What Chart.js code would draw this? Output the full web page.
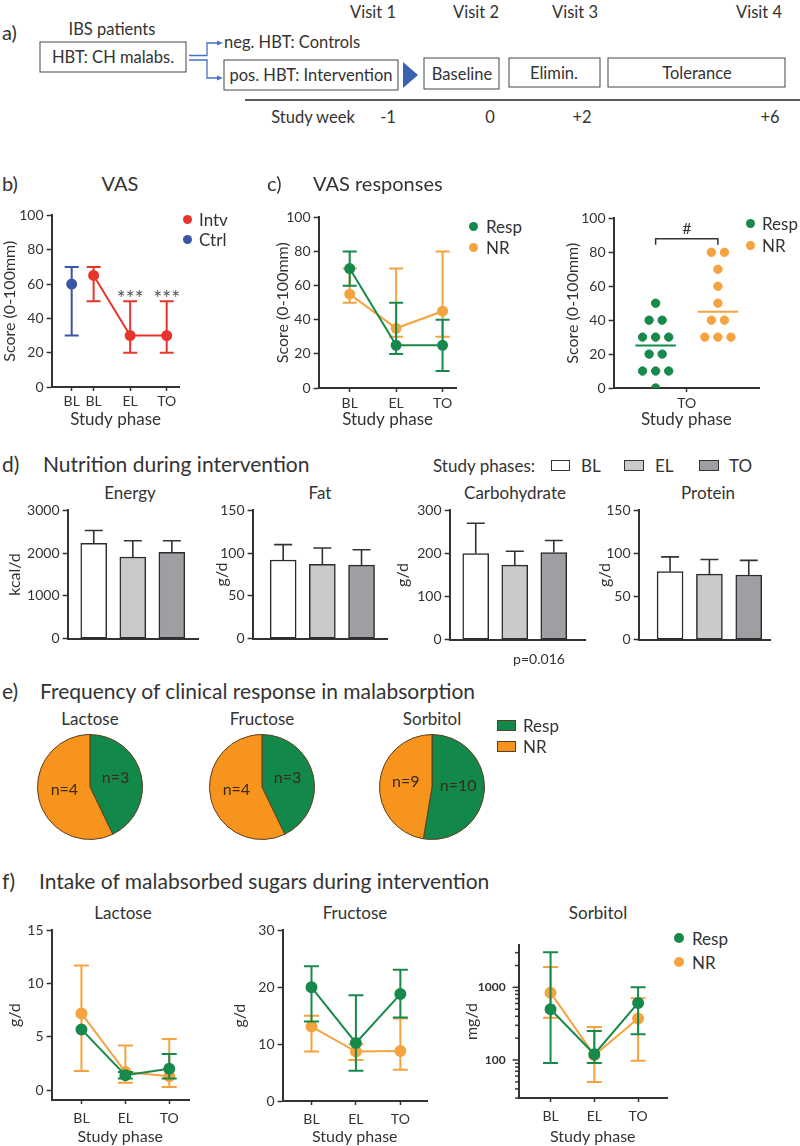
<!DOCTYPE html>
<html><head><meta charset="utf-8">
<script src="https://cdn.jsdelivr.net/npm/chart.js@4.4.1/dist/chart.umd.min.js"></script>
<style>
html,body{margin:0;padding:0;background:#fff;}
#root{position:relative;width:800px;height:1146px;overflow:hidden;font-family:Lato,'Open Sans',sans-serif;color:#333;}
.t{position:absolute;white-space:nowrap;line-height:1;}
canvas{position:absolute;}
</style></head><body><div id="root"></div>
<script>
// ================= DATA =================
// b) VAS
const vasLabels = ['BL','BL','EL','TO'];
const vasTicks = [0,20,40,60,80,100];
const ctrlVas = [60], ctrlVasLo = [30], ctrlVasHi = [70];
const intvVas = [65,30,30], intvVasLo = [50,20,20], intvVasHi = [70,50,50];
const intvStars = ['','***','***'];
// c) VAS responses
const respPhases = ['BL','EL','TO'];
const respVas = [70,25,25], respVasLo = [60,20,10], respVasHi = [80,50,40];
const nrVas = [55,35,45], nrVasLo = [50,30,30], nrVasHi = [70,70,80];
const respTO = [50,40,40,30,30,30,20,20,10,10,10,0];
const nrTO = [80,80,70,60,50,40,40,30,30,30];
// d) Nutrition
const phases = ['BL','EL','TO'];
const energy = [2230,1910,2020], energySD = [300,380,270];
const energyTicks = [0,1000,2000,3000];
const fat = [92,87,86], fatSD = [18,19,18];
const carb = [200,173,202], carbSD = [70,32,28];
const carbTicks = [0,100,200,300];
const protein = [79,76,75], proteinSD = [17,17,17];
const gramTicks = [0,50,100,150];
// e) Frequency of clinical response
const pieGroups = ['Resp','NR'];
const lactoseN = [3,4], fructoseN = [3,4], sorbitolN = [10,9];
// f) Intake of malabsorbed sugars
const lacTicks = [0,5,10,15];
const lacResp = [5.7,1.4,2.0], lacRespLo = [null,1.1,1.1], lacRespHi = [null,1.7,3.4];
const lacNR = [7.2,1.7,1.3], lacNRLo = [1.8,0.7,0.3], lacNRHi = [11.7,4.2,4.8];
const fruTicks = [0,10,20,30];
const fruResp = [20,10.2,18.8], fruRespLo = [14,5.3,14.7], fruRespHi = [23.7,18.6,23.1];
const fruNR = [13.1,8.7,8.8], fruNRLo = [8.7,7.2,5.5], fruNRHi = [15,10,14.5];
const sorResp = [500,120,610], sorRespLo = [91,91,227], sorRespHi = [3050,250,1000];
const sorNR = [845,116,372], sorNRLo = [380,50,98], sorNRHi = [1900,285,708];

// ================= STYLE / LAYOUT =================
const C = {intv:'#e8352b', ctrl:'#3b55a3', resp:'#17894a', nr:'#f5a33e', ink:'#333',
  bars:['#ffffff','#c9cacc','#9e9fa3'], pieG:'#12894a', pieO:'#f7941d', pieB:'#5b3d1f'};
Chart.defaults.font.family = "Lato, 'Open Sans', sans-serif";
Chart.defaults.color = C.ink;
Chart.defaults.animation = false;
Chart.defaults.events = [];
Chart.defaults.plugins.legend.display = false;
Chart.defaults.plugins.tooltip.enabled = false;

const root = document.getElementById('root');
function T(x, y, s, o = {}) {
  const d = document.createElement('div'); d.className = 't'; d.textContent = s;
  const al = o.al || 'c';
  const tx = al === 'c' ? '-50%' : al === 'r' ? '-100%' : '0';
  d.style.cssText = `left:${x}px;top:${y}px;font-size:${o.fs || 16}px;transform:translate(${tx},-50%);${o.css || ''}`;
  root.appendChild(d);
}
function dot(x, y, col, r = 4.5) {
  const d = document.createElement('div');
  d.style.cssText = `position:absolute;left:${x - r}px;top:${y - r}px;width:${2 * r}px;height:${2 * r}px;border-radius:50%;background:${col};`;
  root.appendChild(d);
}
function box(x, y, w, h, col, bc) {
  const d = document.createElement('div');
  d.style.cssText = `position:absolute;left:${x}px;top:${y}px;width:${w}px;height:${h}px;background:${col};border:1px solid ${bc};box-sizing:border-box;`;
  root.appendChild(d);
}

// ---------- panel a (diagram) ----------
(function () {
  const ns = 'http://www.w3.org/2000/svg';
  const svg = document.createElementNS(ns, 'svg');
  svg.setAttribute('width', 800); svg.setAttribute('height', 130);
  svg.style.cssText = 'position:absolute;left:0;top:0;font-family:Lato,sans-serif;';
  function el(tag, attrs, text) {
    const e = document.createElementNS(ns, tag);
    for (const k in attrs) e.setAttribute(k, attrs[k]);
    if (text) e.textContent = text;
    svg.appendChild(e); return e;
  }
  function tx(x, y, s, fs = 16.5, anchor = 'middle') {
    el('text', {x, y, 'font-size': fs, fill: '#333', 'text-anchor': anchor, 'dominant-baseline': 'central'}, s);
  }
  tx(373, 12, 'Visit 1'); tx(476, 12, 'Visit 2'); tx(575, 12, 'Visit 3'); tx(759, 12, 'Visit 4');
  tx(2, 32, 'a)', 20, 'start');
  tx(112, 29, 'IBS patients');
  el('rect', {x: 40, y: 42, width: 146, height: 30, fill: 'none', stroke: '#444', 'stroke-width': 1});
  tx(113, 57, 'HBT: CH malabs.');
  el('path', {d: 'M189 55.5 H207 V43 H219 M189 60 H207 V78 H219', fill: 'none', stroke: '#4472c4', 'stroke-width': 1.3});
  el('path', {d: 'M223 43 L217 40.5 L217 45.5 Z M223 78 L217 75.5 L217 80.5 Z', fill: '#4472c4'});
  tx(224, 42, 'neg. HBT: Controls', 16.5, 'start');
  el('rect', {x: 224, y: 60, width: 174, height: 30, fill: 'none', stroke: '#444', 'stroke-width': 1});
  tx(311, 75, 'pos. HBT: Intervention');
  el('path', {d: 'M403 62 L418 75 L403 88 Z', fill: '#3a62b0'});
  el('rect', {x: 424, y: 58, width: 75, height: 31, fill: 'none', stroke: '#444', 'stroke-width': 1});
  tx(462, 74, 'Baseline');
  el('rect', {x: 509, y: 58, width: 91, height: 29, fill: 'none', stroke: '#444', 'stroke-width': 1});
  tx(554, 73, 'Elimin.');
  el('rect', {x: 608, y: 58, width: 177, height: 29, fill: 'none', stroke: '#444', 'stroke-width': 1});
  tx(697, 73, 'Tolerance');
  el('line', {x1: 245, y1: 100, x2: 800, y2: 100, stroke: '#222', 'stroke-width': 1.5});
  tx(313, 117, 'Study week'); tx(388, 117, '-1'); tx(490, 117, '0'); tx(582, 117, '+2'); tx(770, 117, '+6');
  root.appendChild(svg);
})();

// ---------- plugins ----------
const errPlugin = {
  id: 'err',
  beforeDatasetDraw(chart, args) {
    const ds = chart.data.datasets[args.index];
    if (!ds.errLo && !ds.errHi) return;
    const meta = args.meta, ys = chart.scales[meta.yAxisID], ctx = chart.ctx;
    ctx.save();
    ctx.strokeStyle = ds.errColor || ds.borderColor; ctx.lineWidth = ds.errWidth || 2;
    const cw = ds.capW || 7;
    meta.data.forEach((e, i) => {
      const lo = ds.errLo ? ds.errLo[i] : null, hi = ds.errHi ? ds.errHi[i] : null;
      if (lo == null && hi == null) return;
      const v = ds.data[i].y;
      const yv = ys.getPixelForValue(v);
      const y1 = lo == null ? yv : ys.getPixelForValue(lo);
      const y2 = hi == null ? yv : ys.getPixelForValue(hi);
      ctx.beginPath(); ctx.moveTo(e.x, y1); ctx.lineTo(e.x, y2);
      if (lo != null) { ctx.moveTo(e.x - cw, y1); ctx.lineTo(e.x + cw, y1); }
      if (hi != null) { ctx.moveTo(e.x - cw, y2); ctx.lineTo(e.x + cw, y2); }
      ctx.stroke();
    });
    ctx.restore();
  }
};
const starPlugin = {
  id: 'stars',
  afterDatasetsDraw(chart, args, opts) {
    if (!opts || !opts.labels) return;
    const ds = chart.data.datasets[opts.ds], meta = chart.getDatasetMeta(opts.ds), ys = chart.scales.y, ctx = chart.ctx;
    ctx.save(); ctx.font = "21px Lato, sans-serif"; ctx.fillStyle = '#555'; ctx.textAlign = 'center'; ctx.textBaseline = 'alphabetic';
    meta.data.forEach((e, i) => { const s = opts.labels[i]; if (s) ctx.fillText(s, e.x, ys.getPixelForValue(ds.errHi[i]) + 5); });
    ctx.restore();
  }
};
const bracketPlugin = {
  id: 'bracket',
  afterDraw(chart, args, opts) {
    if (!opts || opts.y == null) return;
    const xs = chart.scales.x, ys = chart.scales.y, ctx = chart.ctx;
    const x1 = xs.getPixelForValue(opts.from), x2 = xs.getPixelForValue(opts.to), y = ys.getPixelForValue(opts.y);
    ctx.save(); ctx.strokeStyle = '#333'; ctx.lineWidth = 1.5;
    ctx.beginPath(); ctx.moveTo(x1, y + 6); ctx.lineTo(x1, y); ctx.lineTo(x2, y); ctx.lineTo(x2, y + 6); ctx.stroke();
    ctx.font = "16px Lato, sans-serif"; ctx.fillStyle = '#333'; ctx.textAlign = 'center'; ctx.textBaseline = 'alphabetic';
    ctx.fillText(opts.text, (x1 + x2) / 2, y - 5);
    ctx.restore();
  }
};
const logTickPlugin = {
  id: 'logTicks',
  afterDraw(chart) {
    const s = chart.scales.y; if (s.type !== 'logarithmic') return;
    const ctx = chart.ctx; ctx.save(); ctx.strokeStyle = C.ink; ctx.lineWidth = 1.5;
    s.ticks.forEach(t => {
      const y = s.getPixelForValue(t.value);
      const lg = Math.log10(t.value); const major = Math.abs(lg - Math.round(lg)) < 1e-9;
      ctx.beginPath(); ctx.moveTo(s.right, y); ctx.lineTo(s.right - (major ? 6 : 3.5), y); ctx.stroke();
    });
    ctx.restore();
  }
};
const pieLabelPlugin = {
  id: 'pieLabels',
  afterDatasetsDraw(chart) {
    const ctx = chart.ctx, meta = chart.getDatasetMeta(0), data = chart.data.datasets[0].data;
    ctx.save(); ctx.font = "16px Lato, sans-serif"; ctx.fillStyle = '#3a2a16'; ctx.textAlign = 'center'; ctx.textBaseline = 'middle';
    meta.data.forEach((a, i) => { const p = a.tooltipPosition(); ctx.fillText('n=' + data[i], p.x, p.y - 3); });
    ctx.restore();
  }
};

// ---------- helpers ----------
function mk(area, config) {
  const padT = 10, padR = 6;
  const ytFs = area.ytFs || 16;
  const yW = area.l - (area.ytx - ytFs * 0.6);
  const xH = area.xH;
  const W = Math.round(yW + (area.r - area.l) + padR), H = Math.round(padT + (area.b - area.t) + xH);
  const c = document.createElement('canvas');
  c.width = W; c.height = H;
  c.style.cssText = `left:${area.l - yW}px;top:${area.t - padT}px;width:${W}px;height:${H}px;`;
  root.appendChild(c);
  const o = config.options = config.options || {};
  o.responsive = false; o.maintainAspectRatio = false; o.animation = false; o.devicePixelRatio = 1;
  o.layout = {padding: {top: padT, right: padR, left: 0, bottom: 0}};
  o.scales.y.afterFit = s => { s.width = yW; };
  o.scales.x.afterFit = s => { s.height = xH; };
  config.plugins = [errPlugin].concat(config.plugins || []);
  return new Chart(c, config);
}
function xAxis(min, max, pos, labels, fs, pad, title, tfs = 16) {
  return {
    type: 'linear', min, max, offset: false,
    afterBuildTicks: s => { s.ticks = pos.map(v => ({value: v})); },
    ticks: {autoSkip: false, maxRotation: 0, minRotation: 0, color: C.ink, font: {size: fs}, padding: pad,
      callback: (v, i) => labels[i]},
    grid: {display: true, drawOnChartArea: false, drawTicks: true, tickLength: 4, tickColor: C.ink, tickWidth: 1.5},
    border: {display: true, color: C.ink, width: 2},
    title: title ? {display: true, text: title, color: C.ink, font: {size: tfs}, padding: {top: 0, bottom: 0}} : {display: false}
  };
}
function xBar(min, max) {
  return {type: 'linear', min, max, offset: false, ticks: {display: false}, grid: {display: false},
    border: {display: true, color: C.ink, width: 2}};
}
function yAxis(min, max, tickVals, fs, title) {
  return {
    type: 'linear', min, max,
    afterBuildTicks: s => { s.ticks = tickVals.map(v => ({value: v})); },
    ticks: {autoSkip: false, color: C.ink, font: {size: fs}, padding: 3, callback: v => String(v)},
    grid: {display: true, drawOnChartArea: false, drawTicks: true, tickLength: 5, tickColor: C.ink, tickWidth: 1.5},
    border: {display: true, color: C.ink, width: 2},
    title: {display: true, text: title, color: C.ink, font: {size: 16}, padding: {top: 0, bottom: 0}}
  };
}
function lineDs(label, vals, pos, lo, hi, col, r = 4.5, cap = 7, showLine = true) {
  return {label, data: vals.map((v, i) => ({x: pos[i], y: v})), errLo: lo, errHi: hi, capW: cap,
    borderColor: col, backgroundColor: col, pointBackgroundColor: col, pointBorderColor: col,
    pointRadius: r, borderWidth: 2, showLine, tension: 0};
}
function swarm(vals, center, spacing) {
  const counts = {}, seen = {};
  vals.forEach(v => counts[v] = (counts[v] || 0) + 1);
  return vals.map(v => { const k = counts[v]; const j = seen[v] = (seen[v] ?? -1) + 1; return {x: center + (j - (k - 1) / 2) * spacing, y: v}; });
}
function median(a) { const s = [...a].sort((p, q) => p - q), n = s.length; return n % 2 ? s[(n - 1) / 2] : (s[n / 2 - 1] + s[n / 2]) / 2; }

// ================= PANEL b =================
T(2, 183, 'b)', {al: 'l', fs: 20});
T(120, 183, 'VAS', {fs: 20});
const vasPos = [0.55, 1.15, 2.15, 3.15];
mk({l: 52, t: 214, r: 180, b: 387, ytx: 10, xH: 43}, {
  type: 'line',
  data: {datasets: [
    lineDs('Intv', intvVas, vasPos.slice(1), intvVasLo, intvVasHi, C.intv),
    lineDs('Ctrl', ctrlVas, vasPos.slice(0, 1), ctrlVasLo, ctrlVasHi, C.ctrl, 4.5, 7, false)
  ]},
  options: {
    scales: {x: xAxis(0, 3.5, vasPos, vasLabels, 14, 2, 'Study phase', 17), y: yAxis(0, 100, vasTicks, 14, 'Score (0-100mm)')},
    plugins: {stars: {labels: intvStars, ds: 0}}
  },
  plugins: [starPlugin]
});
dot(187, 219, C.intv); T(199, 219, 'Intv', {al: 'l', fs: 17});
dot(187, 239, C.ctrl); T(199, 239, 'Ctrl', {al: 'l', fs: 17});

// ================= PANEL c (left) =================
T(267, 183, 'c)', {al: 'l', fs: 20});
T(313, 183, 'VAS responses', {al: 'l', fs: 20});
const cPos = [0, 1, 2];
mk({l: 319, t: 216, r: 457, b: 388, ytx: 283, xH: 42}, {
  type: 'line',
  data: {datasets: [
    lineDs('Resp', respVas, cPos, respVasLo, respVasHi, C.resp),
    lineDs('NR', nrVas, cPos, nrVasLo, nrVasHi, C.nr)
  ]},
  options: {scales: {x: xAxis(-0.67, 2.3, cPos, respPhases, 14, 3, 'Study phase', 17), y: yAxis(0, 100, vasTicks, 14, 'Score (0-100mm)')}}
});
dot(473, 226, C.resp); T(486, 226, 'Resp', {al: 'l', fs: 17});
dot(473, 247, C.nr); T(486, 247, 'NR', {al: 'l', fs: 17});

// ================= PANEL c (right, dot plot) =================
const swSpacing = 0.42, medHalf = 0.65;
const respMed = median(respTO), nrMed = median(nrTO);
mk({l: 614, t: 217, r: 759, b: 388, ytx: 573, xH: 42}, {
  type: 'scatter',
  data: {datasets: [
    {label: 'Resp', data: swarm(respTO, -1, swSpacing), backgroundColor: C.resp, borderColor: C.resp, pointRadius: 4.2, showLine: false},
    {label: 'NR', data: swarm(nrTO, 1, swSpacing), backgroundColor: C.nr, borderColor: C.nr, pointRadius: 4.2, showLine: false},
    {label: 'Resp median', data: [{x: -1 - medHalf, y: respMed}, {x: -1 + medHalf, y: respMed}], showLine: true, pointRadius: 0, borderColor: C.resp, borderWidth: 2},
    {label: 'NR median', data: [{x: 1 - medHalf, y: nrMed}, {x: 1 + medHalf, y: nrMed}], showLine: true, pointRadius: 0, borderColor: C.nr, borderWidth: 2}
  ]},
  options: {
    scales: {x: xAxis(-2.35, 2.32, [0], ['TO'], 14, 3, 'Study phase', 17), y: yAxis(0, 100, vasTicks, 14, 'Score (0-100mm)')},
    plugins: {bracket: {from: -1, to: 1, y: 88, text: '#'}}
  },
  plugins: [bracketPlugin]
});
dot(750, 223, C.resp); T(762, 223, 'Resp', {al: 'l', fs: 17});
dot(750, 245, C.nr); T(762, 245, 'NR', {al: 'l', fs: 17});

// ================= PANEL d =================
T(2, 463, 'd)', {al: 'l', fs: 21});
T(43, 463, 'Nutrition during intervention', {al: 'l', fs: 21});
T(433, 465, 'Study phases:', {al: 'l', fs: 17});
box(551, 460, 19, 11, C.bars[0], '#333'); T(581, 465, phases[0], {al: 'l', fs: 17});
box(624, 460, 20, 11, C.bars[1], '#333'); T(655, 465, phases[1], {al: 'l', fs: 17});
box(699, 460, 20, 11, C.bars[2], '#333'); T(729, 465, phases[2], {al: 'l', fs: 17});
function barChart(area, xmin, xmax, vals, sd, ticks, title, subtitle, subX) {
  T(subX, 492, subtitle, {fs: 17});
  return mk(area, {
    type: 'bar',
    data: {datasets: [{label: subtitle, data: vals.map((v, i) => ({x: i, y: v})), errHi: vals.map((v, i) => v + sd[i]),
      errColor: '#333', errWidth: 1.6, capW: 9,
      backgroundColor: C.bars, borderColor: '#2b2b2b', borderWidth: 1.5, borderSkipped: false, barThickness: 26}]},
    options: {scales: {x: xBar(xmin, xmax), y: yAxis(0, ticks[ticks.length - 1], ticks, 14, title)}}
  });
}
barChart({l: 68, t: 509, r: 198, b: 647, ytx: 15, xH: 3}, -0.67, 2.67, energy, energySD, energyTicks, 'kcal/d', 'Energy', 130);
barChart({l: 253, t: 509, r: 387, b: 647, ytx: 222, xH: 3}, -0.78, 2.65, fat, fatSD, gramTicks, 'g/d', 'Fat', 320);
barChart({l: 450, t: 509, r: 585, b: 648, ytx: 403, xH: 3}, -0.67, 2.8, carb, carbSD, carbTicks, 'g/d', 'Carbohydrate', 515);
barChart({l: 639, t: 509, r: 770, b: 648, ytx: 605, xH: 3}, -0.8, 2.54, protein, proteinSD, gramTicks, 'g/d', 'Protein', 708);
T(539, 659, 'p=0.016', {fs: 14});

// ================= PANEL e =================
T(2, 690, 'e)', {al: 'l', fs: 21});
T(40, 690, 'Frequency of clinical response in malabsorption', {al: 'l', fs: 21});
function pie(cx, cy, r, vals, title) {
  T(cx, 718, title, {fs: 17});
  const c = document.createElement('canvas');
  const S = 2 * r + 2; c.width = S; c.height = S;
  c.style.cssText = `left:${cx - S / 2}px;top:${cy - S / 2}px;width:${S}px;height:${S}px;`;
  root.appendChild(c);
  new Chart(c, {type: 'pie',
    data: {labels: pieGroups, datasets: [{data: vals, backgroundColor: [C.pieG, C.pieO], borderColor: C.pieB, borderWidth: 1}]},
    options: {responsive: false, animation: false, devicePixelRatio: 1, layout: {padding: 0}},
    plugins: [pieLabelPlugin]});
}
pie(90, 787, 52, lactoseN, 'Lactose');
pie(262, 787, 52, fructoseN, 'Fructose');
pie(432, 787, 52, sorbitolN, 'Sorbitol');
box(497, 720, 19, 11, C.pieG, C.pieB); T(523, 725, pieGroups[0], {al: 'l', fs: 17});
box(497, 741, 19, 11, C.pieO, C.pieB); T(523, 746, pieGroups[1], {al: 'l', fs: 17});

// ================= PANEL f =================
T(2, 880, 'f)', {al: 'l', fs: 21});
T(39, 880, 'Intake of malabsorbed sugars during intervention', {al: 'l', fs: 21});
const fPos = [0, 1, 2];
T(123, 912, 'Lactose', {fs: 17});
mk({l: 52, t: 929, r: 190, b: 1100, ytx: 15, xH: 46}, {
  type: 'line',
  data: {datasets: [
    lineDs('Resp', lacResp, fPos, lacRespLo, lacRespHi, C.resp, 5, 7.5),
    lineDs('NR', lacNR, fPos, lacNRLo, lacNRHi, C.nr, 5, 7.5)
  ]},
  options: {scales: {x: xAxis(-0.68, 2.45, fPos, phases, 14, 6, 'Study phase', 16), y: yAxis(-0.93, 15, lacTicks, 14, 'g/d')}}
});
T(355, 912, 'Fructose', {fs: 17});
mk({l: 283, t: 929, r: 428, b: 1101, ytx: 240, xH: 45}, {
  type: 'line',
  data: {datasets: [
    lineDs('Resp', fruResp, fPos, fruRespLo, fruRespHi, C.resp, 5, 7.5),
    lineDs('NR', fruNR, fPos, fruNRLo, fruNRHi, C.nr, 5, 7.5)
  ]},
  options: {scales: {x: xAxis(-0.65, 2.6, fPos, phases, 14, 6, 'Study phase', 16), y: yAxis(0, 30, fruTicks, 14, 'g/d')}}
});
T(598, 912, 'Sorbitol', {fs: 17});
const sorY = {
  type: 'logarithmic', min: 30, max: 3800,
  afterBuildTicks: s => { const t = []; for (let e = 1; e <= 3; e++) for (let m = 1; m <= 9; m++) { const v = m * Math.pow(10, e); if (v >= s.min && v <= s.max) t.push({value: v}); } s.ticks = t; },
  ticks: {autoSkip: false, color: C.ink, font: {size: 12, weight: 'bold'}, padding: 13,
    callback: v => { const lg = Math.log10(v); return Math.abs(lg - Math.round(lg)) < 1e-9 ? String(v) : ''; }},
  grid: {display: false, drawTicks: false},
  border: {display: true, color: C.ink, width: 2},
  title: {display: true, text: 'mg/d', color: C.ink, font: {size: 16}, padding: {top: 0, bottom: 0}}
};
mk({l: 519, t: 935, r: 668, b: 1098, ytx: 472, xH: 48}, {
  type: 'line',
  data: {datasets: [
    lineDs('Resp', sorResp, fPos, sorRespLo, sorRespHi, C.resp, 5, 7.5),
    lineDs('NR', sorNR, fPos, sorNRLo, sorNRHi, C.nr, 5, 7.5)
  ]},
  options: {scales: {x: xAxis(-0.73, 2.66, fPos, phases, 14, 6, 'Study phase', 16), y: sorY}},
  plugins: [logTickPlugin]
});
dot(679, 938, C.resp, 5); T(692, 938, 'Resp', {al: 'l', fs: 17});
dot(679, 962, C.nr, 5); T(692, 962, 'NR', {al: 'l', fs: 17});
</script></body></html>
